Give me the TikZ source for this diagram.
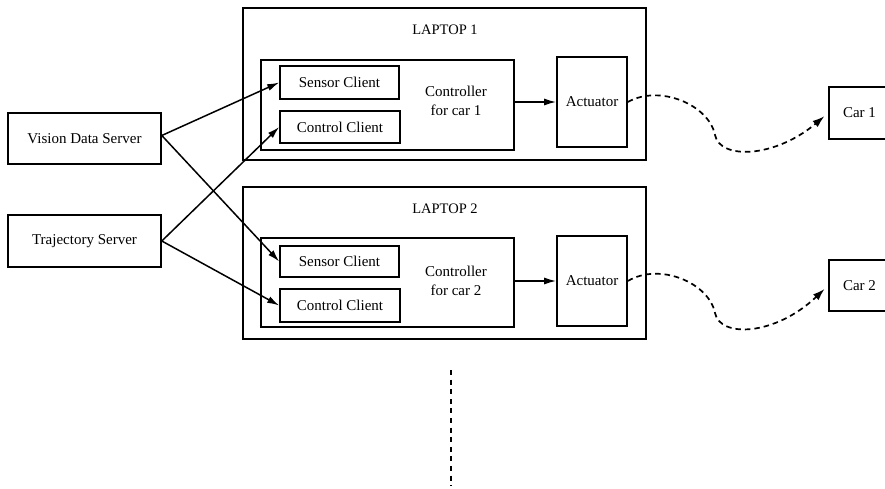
\documentclass[tikz,border=0pt]{standalone}
\usepackage{fontspec}
\setmainfont{Liberation Serif}
\usetikzlibrary{arrows.meta}

\begin{document}
\begin{tikzpicture}[x=1pt,y=-1pt,
  every node/.style={font=\fontsize{15}{17.5}\selectfont, inner sep=0pt},
  box/.style={draw, line width=1.6pt, minimum width=#1},
  link/.style={line width=1.5pt, -{Latex[length=12pt,width=7pt]}},
  radio/.style={line width=1.7pt, dash pattern=on 5.5pt off 4pt, -{Latex[length=12pt,width=8pt]}},
  title/.style={font=\fontsize{14.5}{17}\selectfont}
]
\useasboundingbox (0,0) rectangle (885,489);

% servers
\node[box=153pt, minimum height=51pt] (vds)  at (84.5,138.5) {Vision Data Server};
\node[box=153pt, minimum height=52pt] (traj) at (84.5,241)   {Trajectory Server};

% laptop 1
\node[box=403pt, minimum height=152pt] (lap1) at (444.5,84) {};
\node[title] (t1) at (445,30) {LAPTOP 1};
\node[box=253pt, minimum height=90pt] (in1) at (387.5,105) {};
\node[box=119pt, minimum height=33pt] (sc1) at (339.5,82.5) {Sensor Client};
\node[box=120pt, minimum height=32pt] (cc1) at (340,127) {Control Client};
\node[align=center] (ct1) at (456,101) {Controller\\[1pt]for car 1};
\node[box=70pt, minimum height=90pt] (act1) at (592,102) {Actuator};

% laptop 2
\node[box=403pt, minimum height=152pt] (lap2) at (444.5,263) {};
\node[title] (t2) at (445,209) {LAPTOP 2};
\node[box=253pt, minimum height=89pt] (in2) at (387.5,282.5) {};
\node[box=119pt, minimum height=31pt] (sc2) at (339.5,261.5) {Sensor Client};
\node[box=120pt, minimum height=33pt] (cc2) at (340,305.5) {Control Client};
\node[align=center] (ct2) at (456,281) {Controller\\[1pt]for car 2};
\node[box=70pt, minimum height=90pt] (act2) at (592,281) {Actuator};

% cars
\node[box=61pt, minimum height=52pt] (car1) at (859.5,113) {Car 1};
\node[box=61pt, minimum height=51pt] (car2) at (859.5,285.5) {Car 2};

% data links
\draw[link] ([yshift=3pt]vds.east) -- (sc1.west);
\draw[link] ([yshift=3pt]vds.east) -- (sc2.west);
\draw[link] (traj.east) -- (cc1.west);
\draw[link] (traj.east) -- (cc2.west);
\draw[link] (act1.west -| in1.east) -- (act1.west);
\draw[link] (act2.west -| in2.east) -- (act2.west);

% wireless links to the cars
\coordinate (b1) at (715,135);
\coordinate (b2) at (715,313);
\draw[radio, shorten >=5pt] (act1.east) .. controls (660,84) and (709,105) .. (b1)
  .. controls (720,160) and (775,158) .. (car1.west);
\draw[radio, shorten >=5pt] (act2.east) .. controls (660,262) and (709,283) .. (b2)
  .. controls (720,338) and (775,336) .. (car2.west);

% more laptops below
\coordinate (d1) at (451,370);
\coordinate (d2) at (451,486);
\draw[line width=2pt, dash pattern=on 5pt off 4.6pt] (d1) -- (d2);
\end{tikzpicture}
\end{document}
